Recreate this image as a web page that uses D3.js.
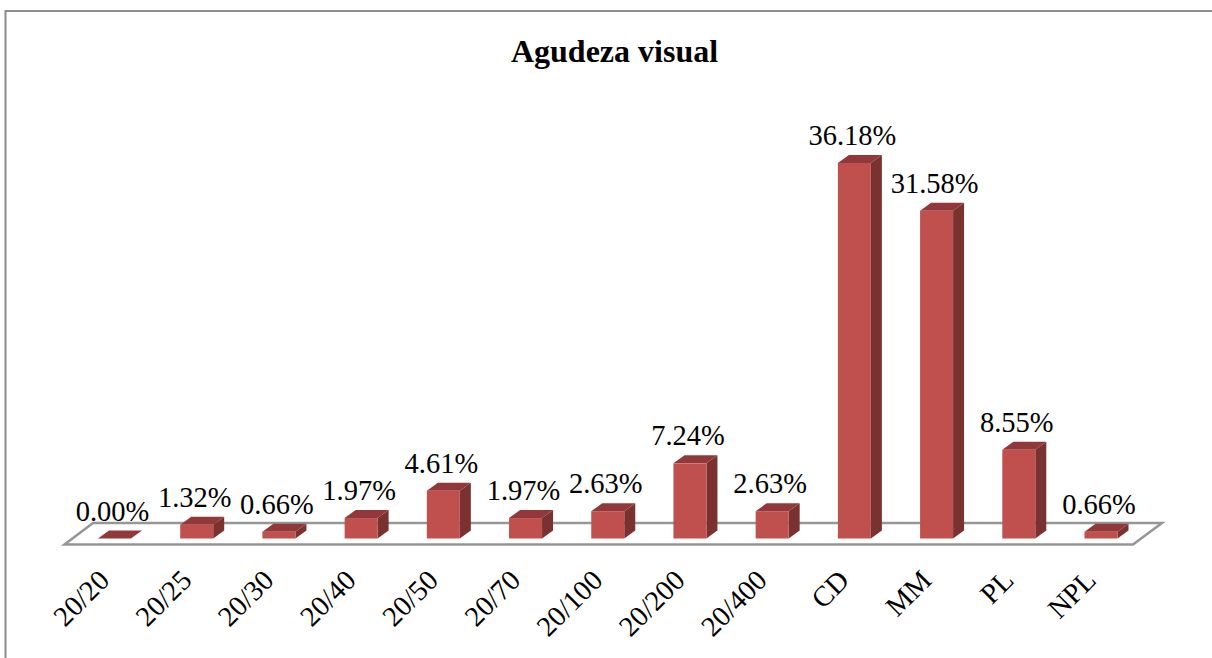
<!DOCTYPE html>
<html><head><meta charset="utf-8">
<script src="https://cdn.jsdelivr.net/npm/d3@7/dist/d3.min.js"></script>
<style>html,body{margin:0;padding:0;background:#fff}svg{display:block}text{font-family:"Liberation Serif",serif;fill:#000}</style>
</head><body><svg id="c" width="1212" height="658"></svg>
<script>
const chartTitle = "Agudeza visual";
const categories = ["20/20","20/25","20/30","20/40","20/50","20/70","20/100","20/200","20/400","CD","MM","PL","NPL"];
const values = [0.00,1.32,0.66,1.97,4.61,1.97,2.63,7.24,2.63,36.18,31.58,8.55,0.66];

const W = 1212, H = 658;
const svg = d3.select("#c");
const base = 538.5, dx = 11, dy = 8, barW = 33;
const xs = d3.scalePoint().domain(categories).range([114.5, 1101]);
const y = d3.scaleLinear().domain([0, 36.18]).range([base, 163]);

// chart frame
svg.append("path").attr("d", `M5.5 ${H} V11 H${W}`).attr("fill","none").attr("stroke","#8c8c8c").attr("stroke-width",2);

// title
svg.append("text").attr("x",614.5).attr("y",62).attr("text-anchor","middle")
  .attr("font-size",32).attr("font-weight","bold").text(chartTitle);

// floor
svg.append("path").attr("d","M64.5 544.5 L93 523 H1162 L1133 544.5 Z")
  .attr("fill","#fff").attr("stroke","#969696").attr("stroke-width",2.5).attr("stroke-linejoin","miter");

const g = svg.selectAll("g.bar").data(categories.map((c,i)=>({c,v:values[i]}))).join("g").attr("class","bar");
const L = d => xs(d.c) - barW/2;
const R = d => xs(d.c) + barW/2;
// side face
g.append("path").attr("fill","#7a3230").attr("d", d =>
  `M${R(d)} ${base} L${R(d)+dx} ${base-dy} V${y(d.v)-dy} L${R(d)} ${y(d.v)} Z`);
// top face
g.append("path").attr("fill","#91393a").attr("d", d =>
  `M${L(d)} ${y(d.v)} L${L(d)+dx} ${y(d.v)-dy} H${R(d)+dx} L${R(d)} ${y(d.v)} Z`);
// front face
g.append("rect").attr("fill","#c0504d").attr("x",L).attr("width",barW)
  .attr("y",d=>y(d.v)).attr("height",d=>base-y(d.v));
// value labels
g.append("text").attr("x",d=>xs(d.c)-2).attr("y",d=>y(d.v)-18).attr("text-anchor","middle")
  .attr("font-size",28.5).text(d=>d.v.toFixed(2)+"%");
// category labels
g.append("text").attr("text-anchor","end").attr("font-size",28.5)
  .attr("transform",d=>`translate(${xs(d.c)-3.5},${582}) rotate(-45)`).text(d=>d.c);
</script></body></html>
